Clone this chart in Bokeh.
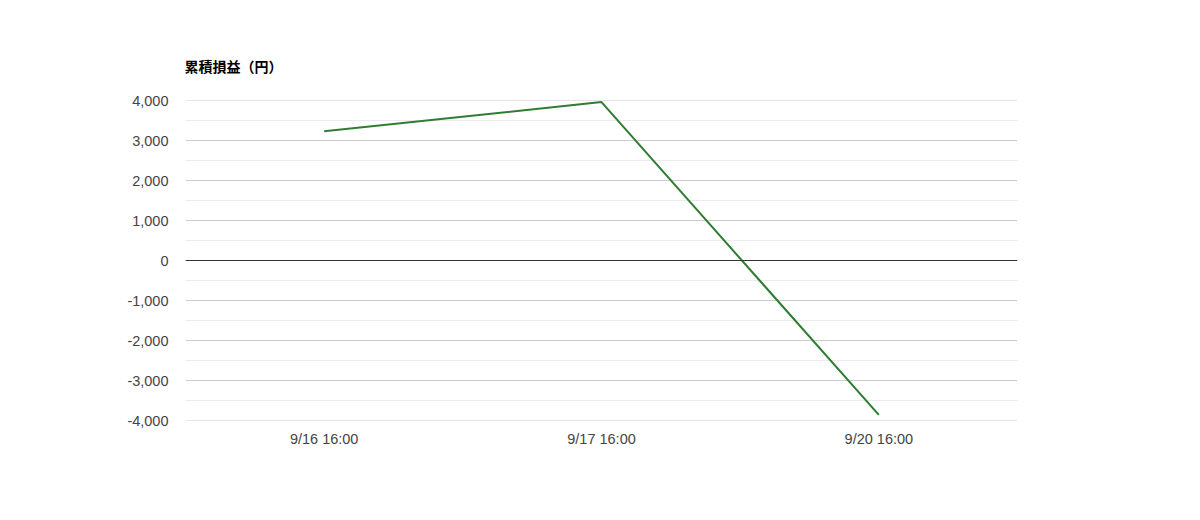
from bokeh.plotting import figure
from bokeh.models import FixedTicker, NumeralTickFormatter, Span, Range1d
from bokeh.embed import file_html
from bokeh.resources import INLINE

categories = ["9/16 16:00", "9/17 16:00", "9/20 16:00"]
cumulative_pl = [3230, 3960, -3860]
y_ticks = [-4000, -3000, -2000, -1000, 0, 1000, 2000, 3000, 4000]
y_minor = [-3500, -2500, -1500, -500, 500, 1500, 2500, 3500]

xs = list(range(len(categories)))

p = figure(frame_width=832, frame_height=320, output_backend="svg", toolbar_location=None,
           x_range=Range1d(-0.5, len(categories) - 0.5), y_range=Range1d(-4000, 4000),
           min_border_left=185, min_border_right=167, min_border_top=100, min_border_bottom=84)
p.outline_line_color = None
p.background_fill_color = "white"
p.border_fill_color = "white"

p.title.text = "累積損益（円）"
p.title.align = "left"
p.title.text_font = "Noto Sans CJK JP"
p.title.text_font_size = "14px"
p.title.text_font_style = "bold"
p.title.text_color = "#000000"
p.title.standoff = 50
p.title.offset = -1

for ax in (p.xaxis[0], p.yaxis[0]):
    ax.axis_line_color = None
    ax.major_tick_line_color = None
    ax.minor_tick_line_color = None
    ax.major_tick_out = 0
    ax.minor_tick_out = 0
    ax.major_label_text_font = "Liberation Sans"
    ax.major_label_text_font_size = "14.5px"
    ax.major_label_text_color = "#444444"

p.xaxis.ticker = FixedTicker(ticks=xs)
p.xaxis.major_label_overrides = {i: c for i, c in enumerate(categories)}
p.xaxis.major_label_standoff = 10
p.xgrid.grid_line_color = None

p.yaxis.ticker = FixedTicker(ticks=y_ticks, minor_ticks=y_minor)
p.yaxis.formatter = NumeralTickFormatter(format="0,0")
p.yaxis.major_label_standoff = 17
p.ygrid.ticker = FixedTicker(ticks=y_ticks, minor_ticks=y_minor)
p.ygrid.grid_line_color = "#cccccc"
p.ygrid.minor_grid_line_color = "#ebebeb"

for loc in (y_ticks[0], y_ticks[-1]):
    p.add_layout(Span(location=loc, dimension="width", line_color="#cccccc", line_width=1))
p.add_layout(Span(location=0, dimension="width", line_color="#333333", line_width=1))

p.line(xs, cumulative_pl, line_color="#2e7d32", line_width=2)

open("out.html", "w").write(file_html(p, INLINE))
